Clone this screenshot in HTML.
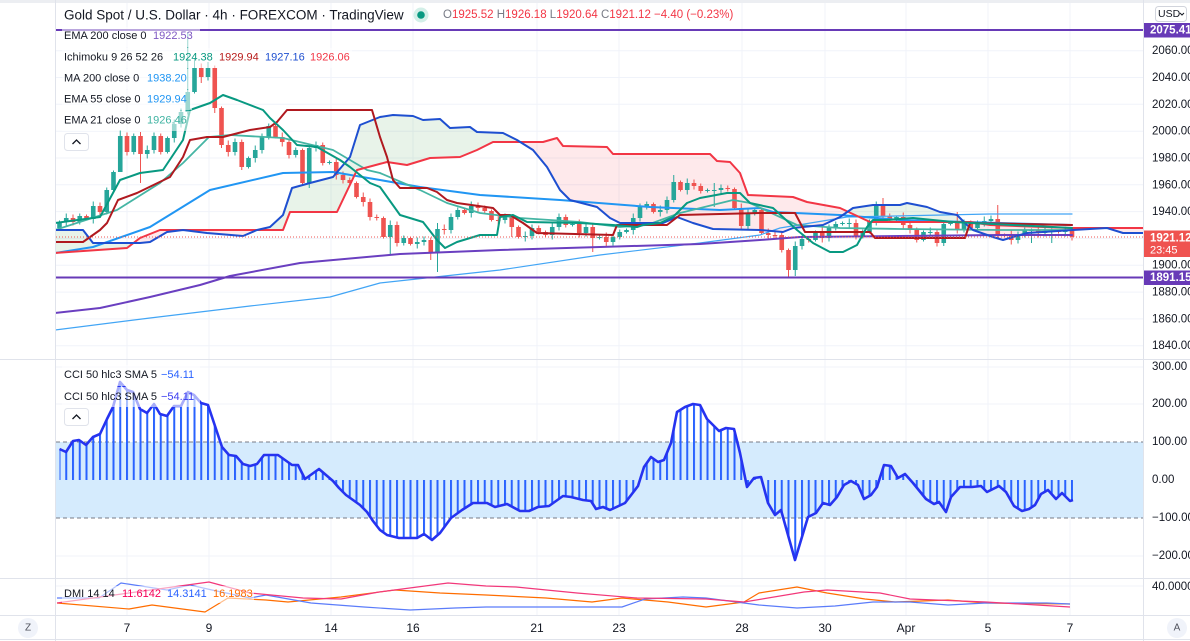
<!DOCTYPE html>
<html><head><meta charset="utf-8">
<style>
html,body{margin:0;padding:0;background:#fff;width:1190px;height:641px;overflow:hidden}
svg{display:block}
</style></head>
<body>
<svg xmlns="http://www.w3.org/2000/svg" width="1190" height="641" viewBox="0 0 1190 641" font-family="'Liberation Sans', Arial, sans-serif">
<defs>
 <clipPath id="mainClip"><rect x="56" y="3" width="1087" height="356"/></clipPath>
 <clipPath id="cciClip"><rect x="56" y="360" width="1087" height="218"/></clipPath>
 <clipPath id="dmiClip"><rect x="56" y="579" width="1087" height="36"/></clipPath>
 <clipPath id="aboveRed"><polygon points="55,253 127,248 140,238 160,230 283,230 290,212 337,212 357,170 387,162 407,165 430,158 460,157 477,150 493,142 543,142 557,138 563,146 607,147 613,154 710,154 717,161 730,162 740,173 748,195 793,197 807,202 840,208 855,215 870,222 900,222 970,222 990,225 1072,228 1143,228 1143,0 55,0"/></clipPath>
 <clipPath id="aboveBlue"><polygon points="55,230 83,230 93,243 140,243 150,242 167,232 183,230 207,233 243,236 257,230 270,227 283,215 292,188 310,183 333,177 350,157 360,125 380,117 393,115 413,116 423,120 440,119 450,128 470,127 477,132 503,133 517,140 533,150 547,167 560,190 570,200 597,207 610,218 620,223 663,223 677,217 693,223 713,229 760,230 783,232 793,228 823,225 840,217 853,208 873,205 900,205 907,203 927,207 940,212 957,215 967,225 973,230 993,237 1003,240 1013,237 1027,233 1073,230 1107,228 1123,233 1143,233 1143,0 55,0"/></clipPath>
 <pattern id="stripes" patternUnits="userSpaceOnUse" x="58.5" y="0" width="6.75" height="10"><rect x="0" y="0" width="2" height="10" fill="#2962ff"/></pattern>
</defs>

<!-- top strip -->
<rect x="0" y="0" width="1190" height="3" fill="#eceef2"/>

<!-- grid -->
<g stroke="#f0f3fa" stroke-width="1">
 <line x1="56" x2="1143" y1="50.7" y2="50.7"/>
 <line x1="56" x2="1143" y1="77.5" y2="77.5"/>
 <line x1="56" x2="1143" y1="104.3" y2="104.3"/>
 <line x1="56" x2="1143" y1="131.2" y2="131.2"/>
 <line x1="56" x2="1143" y1="158" y2="158"/>
 <line x1="56" x2="1143" y1="184.8" y2="184.8"/>
 <line x1="56" x2="1143" y1="211.6" y2="211.6"/>
 <line x1="56" x2="1143" y1="238.4" y2="238.4"/>
 <line x1="56" x2="1143" y1="265.3" y2="265.3"/>
 <line x1="56" x2="1143" y1="292.1" y2="292.1"/>
 <line x1="56" x2="1143" y1="318.9" y2="318.9"/>
 <line x1="56" x2="1143" y1="345.7" y2="345.7"/>
 <line x1="56" x2="1143" y1="367" y2="367"/>
 <line x1="56" x2="1143" y1="404" y2="404"/>
 <line x1="56" x2="1143" y1="480" y2="480"/>
 <line x1="56" x2="1143" y1="556" y2="556"/>
 <line x1="56" x2="1143" y1="586" y2="586"/>
 <line x1="127" x2="127" y1="3" y2="615"/>
 <line x1="209" x2="209" y1="3" y2="615"/>
 <line x1="331" x2="331" y1="3" y2="615"/>
 <line x1="413" x2="413" y1="3" y2="615"/>
 <line x1="537" x2="537" y1="3" y2="615"/>
 <line x1="619" x2="619" y1="3" y2="615"/>
 <line x1="742" x2="742" y1="3" y2="615"/>
 <line x1="825" x2="825" y1="3" y2="615"/>
 <line x1="906" x2="906" y1="3" y2="615"/>
 <line x1="988" x2="988" y1="3" y2="615"/>
 <line x1="1070" x2="1070" y1="3" y2="615"/>
</g>

<!-- MAIN PANE -->
<g clip-path="url(#mainClip)">
 <!-- cloud fills -->
 <polygon clip-path="url(#aboveRed)" fill="#43a047" fill-opacity="0.12" points="55,230 83,230 93,243 140,243 150,242 167,232 183,230 207,233 243,236 257,230 270,227 283,215 292,188 310,183 333,177 350,157 360,125 380,117 393,115 413,116 423,120 440,119 450,128 470,127 477,132 503,133 517,140 533,150 547,167 560,190 570,200 597,207 610,218 620,223 663,223 677,217 693,223 713,229 760,230 783,232 793,228 823,225 840,217 853,208 873,205 900,205 907,203 927,207 940,212 957,215 967,225 973,230 993,237 1003,240 1013,237 1027,233 1073,230 1107,228 1123,233 1143,233 1143,360 55,360"/>
 <polygon clip-path="url(#aboveBlue)" fill="#f23645" fill-opacity="0.11" points="55,253 127,248 140,238 160,230 283,230 290,212 337,212 357,170 387,162 407,165 430,158 460,157 477,150 493,142 543,142 557,138 563,146 607,147 613,154 710,154 717,161 730,162 740,173 748,195 793,197 807,202 840,208 855,215 870,222 900,222 970,222 990,225 1072,228 1143,228 1143,360 55,360"/>

 <!-- candles (generated) -->
 <g id="candles"></g>

 <g fill="none" stroke-linejoin="round" stroke-linecap="round">
  <!-- MA 200 -->
  <polyline stroke="#42a5f5" stroke-width="1.2" points="55,330 150,318 250,306 330,297 380,283 500,270 600,255 700,243 760,235 780,228 847,217 990,214 1072,214"/>
  <!-- EMA 200 -->
  <polyline stroke="#6a3fc0" stroke-width="2" points="55,313 100,308 150,297 200,285 230,276 300,263 400,254 500,250 600,247 700,244 760,240 800,237 900,236 1000,235 1072,235"/>
  <!-- EMA 55 -->
  <polyline stroke="#2196f3" stroke-width="2" points="55,253 93,247 150,227 210,190 283,173 333,172 380,180 420,187 480,195 560,200 650,207 720,210 760,208 773,212 840,215 900,220 1000,223 1072,225"/>
  <!-- EMA 21 -->
  <polyline stroke="#45b5a4" stroke-width="1.8" points="55,230 117,210 160,183 183,163 209,137 230,135 283,138 333,150 367,170 380,173 420,190 447,203 480,213 520,218 580,222 620,227 647,225 680,213 733,200 750,203 797,225 840,228 900,229 1000,230 1072,230"/>
  <!-- Senkou B (red) -->
  <polyline stroke="#f23645" stroke-width="2" points="55,253 127,248 140,238 160,230 283,230 290,212 337,212 357,170 387,162 407,165 430,158 460,157 477,150 493,142 543,142 557,138 563,146 607,147 613,154 710,154 717,161 730,162 740,173 748,195 793,197 807,202 840,208 855,215 870,222 900,222 970,222 990,225 1072,228 1143,228"/>
  <!-- Senkou A (blue) -->
  <polyline stroke="#1e4fd0" stroke-width="2" points="55,230 83,230 93,243 140,243 150,242 167,232 183,230 207,233 243,236 257,230 270,227 283,215 292,188 310,183 333,177 350,157 360,125 380,117 393,115 413,116 423,120 440,119 450,128 470,127 477,132 503,133 517,140 533,150 547,167 560,190 570,200 597,207 610,218 620,223 663,223 677,217 693,223 713,229 760,230 783,232 793,228 823,225 840,217 853,208 873,205 900,205 907,203 927,207 940,212 957,215 967,225 973,230 993,237 1003,240 1013,237 1027,233 1073,230 1107,228 1123,233 1143,233"/>
  <!-- Kijun (dark red) -->
  <polyline stroke="#b0191f" stroke-width="2" points="55,242 83,242 100,230 107,223 118,200 137,193 170,177 183,157 190,140 207,137 223,137 250,130 270,127 277,122 287,110 372,110 380,137 387,157 393,180 400,188 427,188 437,192 447,200 457,203 493,208 500,215 510,215 523,223 537,233 613,235 617,225 667,225 680,215 760,213 795,213 805,232 870,232 875,238 965,238 970,223 1072,225"/>
  <!-- Tenkan (green) -->
  <polyline stroke="#089981" stroke-width="2" points="55,223 100,217 120,180 140,173 163,170 183,140 190,110 210,103 223,95 237,100 263,110 270,118 283,130 297,145 317,147 340,160 350,167 370,183 380,187 400,215 423,222 437,240 445,248 457,242 480,235 497,235 500,217 513,215 527,222 580,223 613,225 637,227 643,225 660,223 673,217 687,203 700,198 727,193 740,193 750,203 773,208 797,230 813,243 830,252 843,252 857,245 867,227 873,220 887,220 913,218 953,222 973,223 1072,228"/>
 </g>

 <!-- price line -->
 <line x1="56" x2="1143" y1="237" y2="237" stroke="#ef5350" stroke-width="1" stroke-dasharray="1 2"/>
 <!-- horizontal drawn lines -->
 <line x1="55" x2="1143" y1="30" y2="30" stroke="#673ab7" stroke-width="2"/>
 <line x1="55" x2="1143" y1="277.5" y2="277.5" stroke="#673ab7" stroke-width="2"/>
</g>

<!-- main legend fades -->
<g fill="#fff" fill-opacity="0.55">
 <rect x="62" y="27" width="138" height="20"/>
 <rect x="62" y="48" width="290" height="20"/>
 <rect x="62" y="69" width="130" height="20"/>
 <rect x="62" y="90" width="130" height="20"/>
 <rect x="62" y="111" width="130" height="20"/>
</g>

<!-- title -->
<text x="64" y="15" font-size="13.5" fill="#131722" dominant-baseline="central">Gold Spot / U.S. Dollar · 4h · FOREXCOM · TradingView</text>
<circle cx="421" cy="15" r="7.5" fill="#d3efe8"/>
<circle cx="421" cy="15" r="3.8" fill="#089981"/>
<text x="443" y="15" font-size="11.5" dominant-baseline="central"><tspan fill="#787b86">O</tspan><tspan fill="#f23645">1925.52 </tspan><tspan fill="#787b86">H</tspan><tspan fill="#f23645">1926.18 </tspan><tspan fill="#787b86">L</tspan><tspan fill="#f23645">1920.64 </tspan><tspan fill="#787b86">C</tspan><tspan fill="#f23645">1921.12 −4.40 (−0.23%)</tspan></text>

<!-- main legend text -->
<g font-size="11" dominant-baseline="central" fill="#131722">
 <text x="64" y="36">EMA 200 close 0</text><text x="153" y="36" fill="#7e57c2">1922.53</text>
 <text x="64" y="57.5">Ichimoku 9 26 52 26</text>
 <text x="173" y="57.5" fill="#089981">1924.38</text>
 <text x="219" y="57.5" fill="#b71c1c">1929.94</text>
 <text x="265" y="57.5" fill="#1e4fd0">1927.16</text>
 <text x="310" y="57.5" fill="#f23645">1926.06</text>
 <text x="64" y="78.5">MA 200 close 0</text><text x="147" y="78.5" fill="#2196f3">1938.20</text>
 <text x="64" y="99.5">EMA 55 close 0</text><text x="147" y="99.5" fill="#2196f3">1929.94</text>
 <text x="64" y="120.5">EMA 21 close 0</text><text x="147" y="120.5" fill="#3fb3a2">1926.46</text>
</g>
<rect x="64.5" y="133.5" width="24" height="17" rx="3" fill="#fff" stroke="#e0e3eb"/>
<polyline points="72.5,144 76.5,140 80.5,144" fill="none" stroke="#131722" stroke-width="1.3"/>

<!-- CCI PANE -->
<rect x="56" y="442" width="1087" height="76" fill="#d5ebfd"/>
<line x1="56" x2="1143" y1="442" y2="442" stroke="#787b86" stroke-width="1" stroke-dasharray="4 3"/>
<line x1="56" x2="1143" y1="518" y2="518" stroke="#787b86" stroke-width="1" stroke-dasharray="4 3"/>
<g clip-path="url(#cciClip)">
 <polygon fill="url(#stripes)" points="59.5,449 66,452 73,441 79,440 86,445 93,437 100,434 107,419 113,407 120,382 127,390 133,392 140,409 147,413 154,404 160,414 167,416 174,406 181,406 188,392 194,395 201,403 208,405 215,426 222,447 229,455 236,456 243,464 250,466 257,464 264,455 271,455 278,455 285,460 292,465 298,465 305,479 312,474 319,469 326,475 333,481 339,488 346,495 353,500 360,505 367,512 373,521 380,530 387,535 399,538 417,538 424,534 432,540 440,533 451,518 462,510 473,503 487,503 495,507 507,504 520,511 529,511 538,507 549,506 563,496 571,497 583,500 591,501 596,509 603,507 610,510 625,503 638,486 644,467 651,457 658,462 664,460 671,443 677,412 685,407 693,404 700,405 707,419 719,431 726,428 734,429 740,453 747,487 754,478 761,477 768,503 775,515 781,510 795,560 808,517 816,513 823,503 830,505 837,497 844,485 851,481 858,485 864,499 871,495 877,487 884,465 891,466 898,478 905,474 913,483 926,499 934,504 939,502 946,512 951,497 960,487 972,487 981,486 987,492 999,486 1006,492 1014,506 1022,511 1029,509 1035,505 1041,494 1048,490 1056,499 1062,493 1070,501 1073,500 1073,480 59.5,480"/>
 <polyline fill="none" stroke="#2633f0" stroke-width="2.6" stroke-linejoin="round" points="59.5,449 66,452 73,441 79,440 86,445 93,437 100,434 107,419 113,407 120,382 127,390 133,392 140,409 147,413 154,404 160,414 167,416 174,406 181,406 188,392 194,395 201,403 208,405 215,426 222,447 229,455 236,456 243,464 250,466 257,464 264,455 271,455 278,455 285,460 292,465 298,465 305,479 312,474 319,469 326,475 333,481 339,488 346,495 353,500 360,505 367,512 373,521 380,530 387,535 399,538 417,538 424,534 432,540 440,533 451,518 462,510 473,503 487,503 495,507 507,504 520,511 529,511 538,507 549,506 563,496 571,497 583,500 591,501 596,509 603,507 610,510 625,503 638,486 644,467 651,457 658,462 664,460 671,443 677,412 685,407 693,404 700,405 707,419 719,431 726,428 734,429 740,453 747,487 754,478 761,477 768,503 775,515 781,510 795,560 808,517 816,513 823,503 830,505 837,497 844,485 851,481 858,485 864,499 871,495 877,487 884,465 891,466 898,478 905,474 913,483 926,499 934,504 939,502 946,512 951,497 960,487 972,487 981,486 987,492 999,486 1006,492 1014,506 1022,511 1029,509 1035,505 1041,494 1048,490 1056,499 1062,493 1070,501 1073,500"/>
</g>
<g fill="#fff" fill-opacity="0.6">
 <rect x="62" y="365" width="138" height="21"/>
 <rect x="62" y="387" width="138" height="20"/>
</g>
<g font-size="11" dominant-baseline="central" fill="#131722">
 <text x="64" y="375">CCI 50 hlc3 SMA 5</text><text x="161" y="375" fill="#2962ff">−54.11</text>
 <text x="64" y="397">CCI 50 hlc3 SMA 5</text><text x="161" y="397" fill="#3b3df0">−54.11</text>
</g>
<rect x="64.5" y="408.5" width="24" height="17" rx="3" fill="#fff" stroke="#e0e3eb"/>
<polyline points="72.5,419 76.5,415 80.5,419" fill="none" stroke="#131722" stroke-width="1.3"/>

<!-- DMI PANE -->
<g clip-path="url(#dmiClip)" fill="none" stroke-width="1.2" stroke-linejoin="round">
 <polyline stroke="#ff6d00" points="57,603 129,609 152,605 205,612 228,598 266,600 288,602 341,597 395,590 440,593 486,595 546,598 592,602 622,598 668,602 706,607 744,602 759,593 797,587 827,593 865,599 895,602 948,600 986,603 1070,604"/>
 <polyline stroke="#5b7cfa" points="57,598 99,598 121,583 167,590 190,585 212,590 250,598 266,595 311,603 364,607 410,610 455,608 486,607 546,607 592,607 622,607 645,599 683,597 706,598 759,605 797,608 835,606 873,602 910,602 948,605 986,603 1047,603 1070,604"/>
 <polyline stroke="#f2387a" points="57,603 129,593 209,582 250,593 303,598 341,599 379,592 448,583 486,586 516,587 577,593 637,598 706,599 744,602 804,592 827,590 880,593 910,599 986,602 1070,607"/>
</g>
<rect x="62" y="586" width="192" height="17" fill="#fff" fill-opacity="0.55"/>
<g font-size="11" dominant-baseline="central">
 <text x="64" y="594" fill="#131722">DMI 14 14</text>
 <text x="122" y="594" fill="#f50057">11.6142</text>
 <text x="167" y="594" fill="#2962ff">14.3141</text>
 <text x="213" y="594" fill="#ff6d00">16.1983</text>
</g>

<!-- borders -->
<g stroke="#e0e3eb" stroke-width="1">
 <line x1="55.5" x2="55.5" y1="0" y2="641"/>
 <line x1="1143.5" x2="1143.5" y1="0" y2="641"/>
 <line x1="0" x2="1190" y1="359.5" y2="359.5"/>
 <line x1="0" x2="1190" y1="578.5" y2="578.5"/>
 <line x1="0" x2="1190" y1="615.5" y2="615.5"/>
 <line x1="0" x2="1190" y1="639.5" y2="639.5"/>
</g>

<!-- right axis -->
<g font-size="11.5" fill="#131722" dominant-baseline="central">
 <text x="1152" y="51">2060.00</text>
 <text x="1152" y="78">2040.00</text>
 <text x="1152" y="105">2020.00</text>
 <text x="1152" y="131.5">2000.00</text>
 <text x="1152" y="158.5">1980.00</text>
 <text x="1152" y="185.5">1960.00</text>
 <text x="1152" y="212">1940.00</text>
 <text x="1152" y="265.5">1900.00</text>
 <text x="1152" y="292.5">1880.00</text>
 <text x="1152" y="319.5">1860.00</text>
 <text x="1152" y="346">1840.00</text>
 <text x="1152" y="367">300.00</text>
 <text x="1152" y="404">200.00</text>
 <text x="1152" y="442">100.00</text>
 <text x="1152" y="480">0.00</text>
 <text x="1152" y="518">−100.00</text>
 <text x="1152" y="556">−200.00</text>
 <text x="1152" y="587">40.0000</text>
</g>
<rect x="1144" y="23" width="46" height="14.5" fill="#673ab7"/>
<text x="1150" y="30.5" font-size="11.5" font-weight="bold" fill="#fff" dominant-baseline="central">2075.41</text>
<rect x="1144" y="270.5" width="46" height="14.5" fill="#673ab7"/>
<text x="1150" y="278" font-size="11.5" font-weight="bold" fill="#fff" dominant-baseline="central">1891.15</text>
<rect x="1144" y="230.5" width="46" height="26.5" fill="#ef5350"/>
<text x="1150" y="238.5" font-size="11.5" font-weight="bold" fill="#fff" dominant-baseline="central">1921.12</text>
<text x="1150" y="250.5" font-size="11" fill="#fff" dominant-baseline="central">23:45</text>

<!-- USD button -->
<rect x="1155.5" y="6.5" width="31" height="15" rx="3" fill="#fff" stroke="#d1d4dc"/>
<text x="1158" y="14.2" font-size="10.5" fill="#131722" dominant-baseline="central">USD</text>
<polyline points="1180,13 1182,15 1184,13" fill="none" stroke="#131722" stroke-width="1"/>

<!-- time axis -->
<g font-size="12" fill="#131722" text-anchor="middle" dominant-baseline="central">
 <text x="127" y="628">7</text>
 <text x="209" y="628">9</text>
 <text x="331" y="628">14</text>
 <text x="413" y="628">16</text>
 <text x="537" y="628">21</text>
 <text x="619" y="628">23</text>
 <text x="742" y="628">28</text>
 <text x="825" y="628">30</text>
 <text x="906" y="628">Apr</text>
 <text x="988" y="628">5</text>
 <text x="1070" y="628">7</text>
</g>
<circle cx="28" cy="628" r="10" fill="#f0f3fa"/>
<text x="28" y="628" font-size="10" fill="#50535e" text-anchor="middle" dominant-baseline="central">Z</text>
<circle cx="1177" cy="628" r="10" fill="#f0f3fa"/>
<text x="1177" y="628" font-size="10" fill="#50535e" text-anchor="middle" dominant-baseline="central">A</text>
</svg>

<script>
(function(){
var cl=[222,218,222,216,219,206,212,190,172,136,152,136,154,150,136,152,138,124,112,92,
68,77,68,108,145,152,142,167,158,150,137,126,137,142,155,150,183,148,145,163,
162,175,180,183,197,202,217,218,237,225,243,238,244,242,240,253,229,230,217,210,
213,206,208,211,220,220,217,227,237,236,228,232,235,227,217,225,224,233,227,238,
237,242,237,232,230,218,207,204,212,210,200,182,190,183,186,191,190,190,188,189,
208,226,213,210,233,235,235,250,270,246,239,240,232,238,228,224,223,223,236,232,
221,206,216,220,217,225,230,240,232,232,243,224,223,229,223,228,222,221,219,235,
235,240,235,230,230,233,231,231,232,231,237];
var ov={9:[130,172],12:[132,183],19:[32,null],20:[58,null],21:[null,83],22:[62,null],23:[null,113],24:[null,148],27:[null,170],36:[null,186],37:[null,188],49:[null,255],55:[null,260],56:[223,272],67:[null,237],79:[null,252],91:[175,null],97:[183,207],108:[null,277],109:[null,276],122:[198,null],131:[null,246],133:[212,null],139:[205,null],144:[null,243],147:[null,243]};
var g=document.getElementById('candles');
var ns='http://www.w3.org/2000/svg';
var o=228,col='#26a69a';
for(var i=0;i<cl.length;i++){
 var c=cl[i],x=59.5+i*6.75,t=Math.min(o,c),b=Math.max(o,c);
 var w=1.5+((i*7)%4);
 var hi=t-w,lo=b+w;
 if(ov[i]){if(ov[i][0]!==null)hi=ov[i][0];if(ov[i][1]!==null)lo=ov[i][1];}
 if(c<o)col='#26a69a';else if(c>o)col='#ef5350';
 var l=document.createElementNS(ns,'line');
 l.setAttribute('x1',x);l.setAttribute('x2',x);l.setAttribute('y1',hi);l.setAttribute('y2',lo);
 l.setAttribute('stroke',col);l.setAttribute('stroke-width','1');
 g.appendChild(l);
 var r=document.createElementNS(ns,'rect');
 r.setAttribute('x',x-2.3);r.setAttribute('y',t);r.setAttribute('width','4.6');r.setAttribute('height',Math.max(b-t,1));
 r.setAttribute('fill',col);
 g.appendChild(r);
 o=c;
}
})();
</script>
</body></html>
